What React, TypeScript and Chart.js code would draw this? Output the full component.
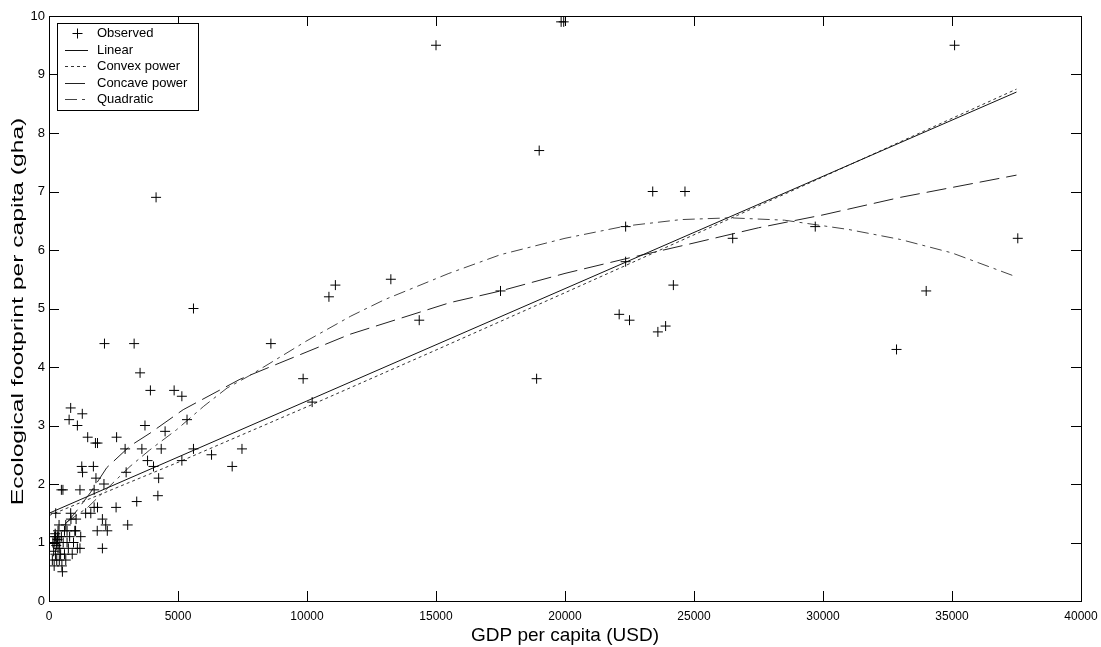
import React, { useEffect, useRef } from 'react';
import { Chart, registerables } from 'chart.js';

Chart.register(...registerables);

const xTitle = 'GDP per capita (USD)';
const yTitle = 'Ecological footprint per capita (gha)';
const seriesLabels = ['Observed', 'Linear', 'Convex power', 'Concave power', 'Quadratic'];

const xTicks = [0, 5000, 10000, 15000, 20000, 25000, 30000, 35000, 40000];
const yTicks = [0, 1, 2, 3, 4, 5, 6, 7, 8, 9, 10];

const gdpObserved = [
  15000, 19850, 19950, 35100, 19000, 23400, 24650, 22350, 22350, 17500,
  26500, 29700, 24200, 22100, 22500, 23600, 23900, 18900, 37550, 34000,
  32850, 11100, 10850, 13250, 14350, 8600, 9850, 10200, 4150, 5600,
  2150, 3300, 3530, 3930, 4850, 5150, 3720, 4500, 5350, 3600,
  4350, 5600, 6300, 7480, 7100, 3820, 4050, 5150, 4250, 4220,
  3400, 3050, 2620, 2950, 2990, 840, 780, 1290, 1100, 1500,
  1800, 1880, 1270, 1300, 1720, 1820, 2130, 480, 540, 1200,
  1750, 2600, 260, 840, 1420, 1620, 1750, 1880, 2070, 2200,
  1870, 2260, 2070, 1200, 1230, 1030, 390, 650, 520, 130,
  200, 250, 300, 320, 350, 380, 400, 420, 450, 480,
  500, 550, 600, 650, 700, 750, 800, 900, 950, 1000,
  1100, 300, 350, 700, 850, 1050, 600, 200, 250, 400,
  150, 220, 280, 330, 180, 240,
];
const efObserved = [
  9.5, 9.9, 9.9, 9.5, 7.7, 7.0, 7.0, 6.4, 5.8, 5.3,
  6.2, 6.4, 5.4, 4.9, 4.8, 4.6, 4.7, 3.8, 6.2, 5.3,
  4.3, 5.4, 5.2, 5.5, 4.8, 4.4, 3.8, 3.4, 6.9, 5.0,
  4.4, 4.4, 3.9, 3.6, 3.6, 3.5, 3.0, 2.9, 3.1, 2.6,
  2.6, 2.6, 2.5, 2.6, 2.3, 2.4, 2.3, 2.4, 2.1, 1.8,
  1.7, 1.3, 2.8, 2.6, 2.2, 3.3, 3.1, 3.2, 3.0, 2.8,
  2.7, 2.7, 2.3, 2.2, 2.3, 2.1, 2.0, 1.9, 1.9, 1.9,
  1.9, 1.6, 1.5, 1.5, 1.5, 1.5, 1.6, 1.6, 1.4, 1.3,
  1.2, 1.2, 0.9, 0.9, 1.1, 1.2, 1.3, 1.3, 0.5, 0.7,
  0.6, 0.8, 1.0, 1.1, 0.9, 1.1, 0.7, 1.0, 0.8, 1.1,
  0.6, 1.0, 0.8, 0.7, 1.0, 0.9, 1.1, 0.8, 1.0, 1.2,
  0.9, 0.7, 1.2, 1.2, 1.4, 1.4, 1.2, 1.0, 1.1, 0.9,
  1.0, 1.1, 0.95, 1.05, 0.85, 1.15,
];

const linearGdp = [0, 5000, 10000, 15000, 20000, 25000, 30000, 37500];
const linearEf = [1.5, 2.46, 3.42, 4.38, 5.34, 6.3, 7.26, 8.7];

const convexGdp = [0, 5000, 10000, 15000, 20000, 25000, 30000, 37500];
const convexEf = [1.46, 2.37, 3.32, 4.29, 5.27, 6.26, 7.25, 8.75];

const concaveGdp = [600, 1000, 1600, 2240, 3140, 3920, 5200, 7400, 8950, 11670, 15540, 17500, 20000, 22350, 25000, 27500, 30000, 33000, 37500];
const concaveEf = [1.3, 1.5, 1.85, 2.28, 2.65, 2.87, 3.27, 3.79, 4.07, 4.56, 5.1, 5.3, 5.6, 5.85, 6.12, 6.38, 6.6, 6.9, 7.28];

const quadraticGdp = [700, 1500, 2600, 3140, 3900, 4950, 6000, 6900, 7800, 10000, 11700, 13000, 15500, 17500, 20000, 22350, 24500, 26400, 28500, 31000, 33000, 35000, 37500];
const quadraticEf = [1.35, 1.6, 2.07, 2.3, 2.58, 2.93, 3.33, 3.64, 3.86, 4.45, 4.87, 5.15, 5.6, 5.92, 6.2, 6.41, 6.52, 6.55, 6.51, 6.35, 6.18, 5.95, 5.54];

const FONT = '"Liberation Sans", Arial, Helvetica, sans-serif';

const toPoints = (xs: number[], ys: number[]) => xs.map((x, i) => ({ x, y: ys[i] }));

const frameTicksPlugin = {
  id: 'frameTicks',
  afterDatasetsDraw(chart: any) {
    const { ctx, chartArea: a, scales } = chart;
    const xs = scales.x;
    const ys = scales.y;
    const tl = 10;
    ctx.save();
    ctx.strokeStyle = '#000';
    ctx.lineWidth = 1;
    ctx.beginPath();
    xs.ticks.forEach((t: any) => {
      const px = Math.round(xs.getPixelForValue(t.value)) + 0.5;
      ctx.moveTo(px, a.bottom);
      ctx.lineTo(px, a.bottom - tl);
      ctx.moveTo(px, a.top);
      ctx.lineTo(px, a.top + tl);
    });
    ys.ticks.forEach((t: any) => {
      const py = Math.round(ys.getPixelForValue(t.value)) + 0.5;
      ctx.moveTo(a.left, py);
      ctx.lineTo(a.left + tl, py);
      ctx.moveTo(a.right, py);
      ctx.lineTo(a.right - tl, py);
    });
    ctx.stroke();
    ctx.strokeRect(Math.round(a.left) + 0.5, Math.round(a.top) + 0.5, Math.round(a.right - a.left), Math.round(a.bottom - a.top));
    ctx.restore();
  },
};

const legendPlugin = {
  id: 'insideLegend',
  afterDraw(chart: any) {
    const { ctx, chartArea: a } = chart;
    const x0 = Math.round(a.left) + 8;
    const y0 = Math.round(a.top) + 7;
    const w = 141;
    const h = 87;
    ctx.save();
    ctx.fillStyle = '#fff';
    ctx.fillRect(x0, y0, w, h);
    ctx.strokeStyle = '#000';
    ctx.lineWidth = 1;
    ctx.strokeRect(x0 + 0.5, y0 + 0.5, w, h);
    ctx.font = '13px ' + FONT;
    ctx.textAlign = 'left';
    ctx.textBaseline = 'middle';
    chart.data.datasets.forEach((ds: any, i: number) => {
      const cy = Math.round(y0 + 10 + i * 16.5) + 0.5;
      const sx = x0 + 8;
      const ex = x0 + 31;
      ctx.strokeStyle = ds.borderColor;
      ctx.lineWidth = 1;
      if (i === 0) {
        const cx = Math.round((sx + ex) / 2) + 0.5;
        ctx.setLineDash([]);
        ctx.beginPath();
        ctx.moveTo(cx - 5, cy);
        ctx.lineTo(cx + 5, cy);
        ctx.moveTo(cx, cy - 5);
        ctx.lineTo(cx, cy + 5);
        ctx.stroke();
      } else {
        ctx.setLineDash(ds.borderDash || []);
        ctx.beginPath();
        ctx.moveTo(sx, cy);
        ctx.lineTo(ex, cy);
        ctx.stroke();
        ctx.setLineDash([]);
      }
      ctx.fillStyle = '#000';
      ctx.fillText(ds.label, x0 + 40, cy);
    });
    ctx.restore();
  },
};

const axisTitlePlugin = {
  id: 'axisTitles',
  afterDraw(chart: any) {
    const { ctx, chartArea: a } = chart;
    ctx.save();
    ctx.fillStyle = '#000';
    ctx.textAlign = 'center';
    ctx.textBaseline = 'middle';
    ctx.font = '19px ' + FONT;
    ctx.fillText(xTitle, (a.left + a.right) / 2, 636);
    ctx.translate(19, (a.top + a.bottom) / 2 + 3);
    ctx.rotate(-Math.PI / 2);
    ctx.scale(1.54, 1);
    ctx.font = '16px ' + FONT;
    ctx.fillText(yTitle, 0, 0);
    ctx.restore();
  },
};

export default function App() {
  const canvasRef = useRef<HTMLCanvasElement | null>(null);

  useEffect(() => {
    if (!canvasRef.current) return;
    const lineBase = { showLine: true, pointRadius: 0, borderWidth: 1, fill: false, tension: 0 };
    const chart = new Chart(canvasRef.current, {
      type: 'scatter',
      data: {
        datasets: [
          {
            label: seriesLabels[0],
            data: toPoints(gdpObserved, efObserved),
            pointStyle: 'cross',
            pointRadius: 5,
            borderColor: '#000',
            backgroundColor: '#000',
            borderWidth: 1,
            showLine: false,
          },
          { ...lineBase, label: seriesLabels[1], data: toPoints(linearGdp, linearEf), borderColor: '#111', borderDash: [] },
          { ...lineBase, label: seriesLabels[2], data: toPoints(convexGdp, convexEf), borderColor: '#333', borderDash: [3, 3] },
          { ...lineBase, label: seriesLabels[3], data: toPoints(concaveGdp, concaveEf), borderColor: '#222', borderDash: [20, 7] },
          { ...lineBase, label: seriesLabels[4], data: toPoints(quadraticGdp, quadraticEf), borderColor: '#444', borderDash: [12, 5, 3, 5] },
        ],
      } as any,
      options: {
        animation: false,
        responsive: true,
        maintainAspectRatio: false,
        events: [],
        layout: { padding: { left: 0, right: 20, top: 16, bottom: 0 } },
        plugins: {
          legend: { display: false },
          tooltip: { enabled: false },
          title: { display: false },
        },
        scales: {
          x: {
            type: 'linear',
            min: 0,
            max: 40000,
            afterBuildTicks: (scale: any) => {
              scale.ticks = xTicks.map((v) => ({ value: v }));
            },
            afterFit: (scale: any) => {
              scale.height = 46;
              scale.paddingLeft = 0;
              scale.paddingRight = 0;
            },
            grid: { display: false, drawTicks: false },
            border: { display: false },
            ticks: {
              padding: 8,
              color: '#000',
              font: { family: FONT, size: 12 },
              maxRotation: 0,
              autoSkip: false,
              callback: (v: any) => String(v),
            },
            title: { display: false, text: xTitle },
          },
          y: {
            type: 'linear',
            min: 0,
            max: 10,
            afterBuildTicks: (scale: any) => {
              scale.ticks = yTicks.map((v) => ({ value: v }));
            },
            afterFit: (scale: any) => {
              scale.width = 49;
              scale.paddingTop = 0;
              scale.paddingBottom = 0;
            },
            grid: { display: false, drawTicks: false },
            border: { display: false },
            ticks: {
              padding: 4,
              color: '#000',
              font: { family: FONT, size: 13 },
              autoSkip: false,
              callback: (v: any) => String(v),
            },
            title: { display: false, text: yTitle },
          },
        },
      } as any,
      plugins: [frameTicksPlugin, axisTitlePlugin, legendPlugin],
    });
    return () => chart.destroy();
  }, []);

  return (
    <div style={{ position: 'fixed', left: 0, top: 0, width: 1101, height: 647, background: '#fff' }}>
      <canvas ref={canvasRef} />
    </div>
  );
}
